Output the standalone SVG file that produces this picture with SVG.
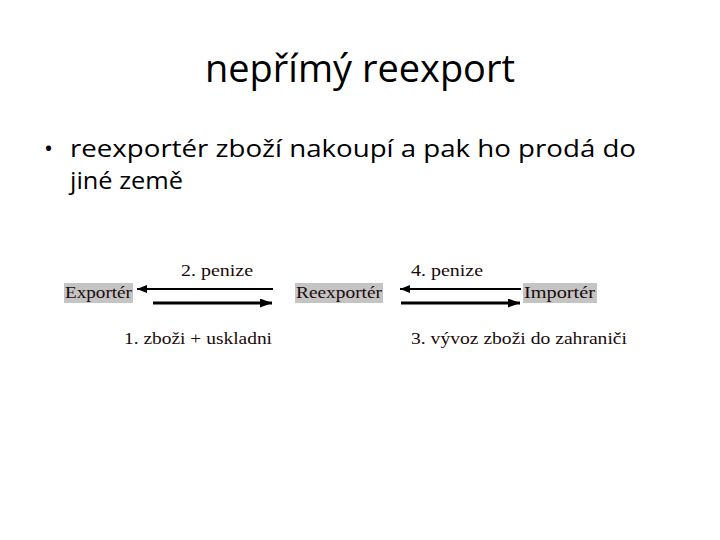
<svg xmlns="http://www.w3.org/2000/svg" width="720" height="540" viewBox="0 0 720 540">
<defs>
<marker id="ah" viewBox="0 0 10 8" refX="10" refY="4" markerWidth="10" markerHeight="8" markerUnits="userSpaceOnUse" orient="auto">
<path d="M0,0 L10,4 L0,8 Z" fill="#000"/>
</marker>
<marker id="ah2" viewBox="0 0 12 9" refX="12" refY="4.5" markerWidth="13" markerHeight="9" markerUnits="userSpaceOnUse" orient="auto">
<path d="M0,0 L12,4.5 L0,9 Z" fill="#000"/>
</marker>
<style>
.title{font-family:"Open Sans","Noto Sans","Liberation Sans",sans-serif;font-size:39px;fill:#000}
.body{font-family:"Open Sans","Noto Sans","Liberation Sans",sans-serif;font-size:24px;fill:#000}
.lbl{font-family:"Liberation Serif","DejaVu Serif",serif;font-size:17px;fill:#1a0a0a}
.box{fill:#c4c4c4}
.a1{stroke:#000;stroke-width:2;fill:none;marker-end:url(#ah)}
.a2{stroke:#000;stroke-width:3;fill:none;marker-end:url(#ah2)}
</style>
</defs>
<rect width="720" height="540" fill="#fff"/>
<text class="title" x="205" y="82" textLength="310" lengthAdjust="spacingAndGlyphs">nepřímý reexport</text>
<text class="body" x="44" y="157">•</text>
<text class="body" x="70" y="157" textLength="566" lengthAdjust="spacingAndGlyphs">reexportér zboží nakoupí a pak ho prodá do</text>
<text class="body" x="70" y="189" textLength="113" lengthAdjust="spacingAndGlyphs">jiné země</text>

<g id="exporter">
<rect class="box" x="64" y="283" width="69" height="20"/>
<text class="lbl" x="65" y="298" textLength="67" lengthAdjust="spacingAndGlyphs">Exportér</text>
</g>
<g id="reexporter">
<rect class="box" x="295" y="283" width="88" height="20"/>
<text class="lbl" x="296" y="298" textLength="86" lengthAdjust="spacingAndGlyphs">Reexportér</text>
</g>
<g id="importer">
<rect class="box" x="523" y="283" width="74" height="20"/>
<text class="lbl" x="524" y="298" textLength="71" lengthAdjust="spacingAndGlyphs">Importér</text>
</g>

<g id="connectors">
<line class="a1" x1="273" y1="289" x2="137" y2="289"/>
<line class="a2" x1="153" y1="303" x2="272" y2="303"/>
<line class="a1" x1="521" y1="289" x2="400" y2="289"/>
<line class="a2" x1="401" y1="303" x2="520" y2="303"/>
<text class="lbl" x="181" y="276" textLength="72" lengthAdjust="spacingAndGlyphs">2. penize</text>
<text class="lbl" x="411" y="276" textLength="72" lengthAdjust="spacingAndGlyphs">4. penize</text>
<text class="lbl" x="124" y="344" textLength="148" lengthAdjust="spacingAndGlyphs">1. zboži + uskladni</text>
<text class="lbl" x="411" y="344" textLength="216" lengthAdjust="spacingAndGlyphs">3. vývoz zboži do zahraniči</text>
</g>
</svg>
